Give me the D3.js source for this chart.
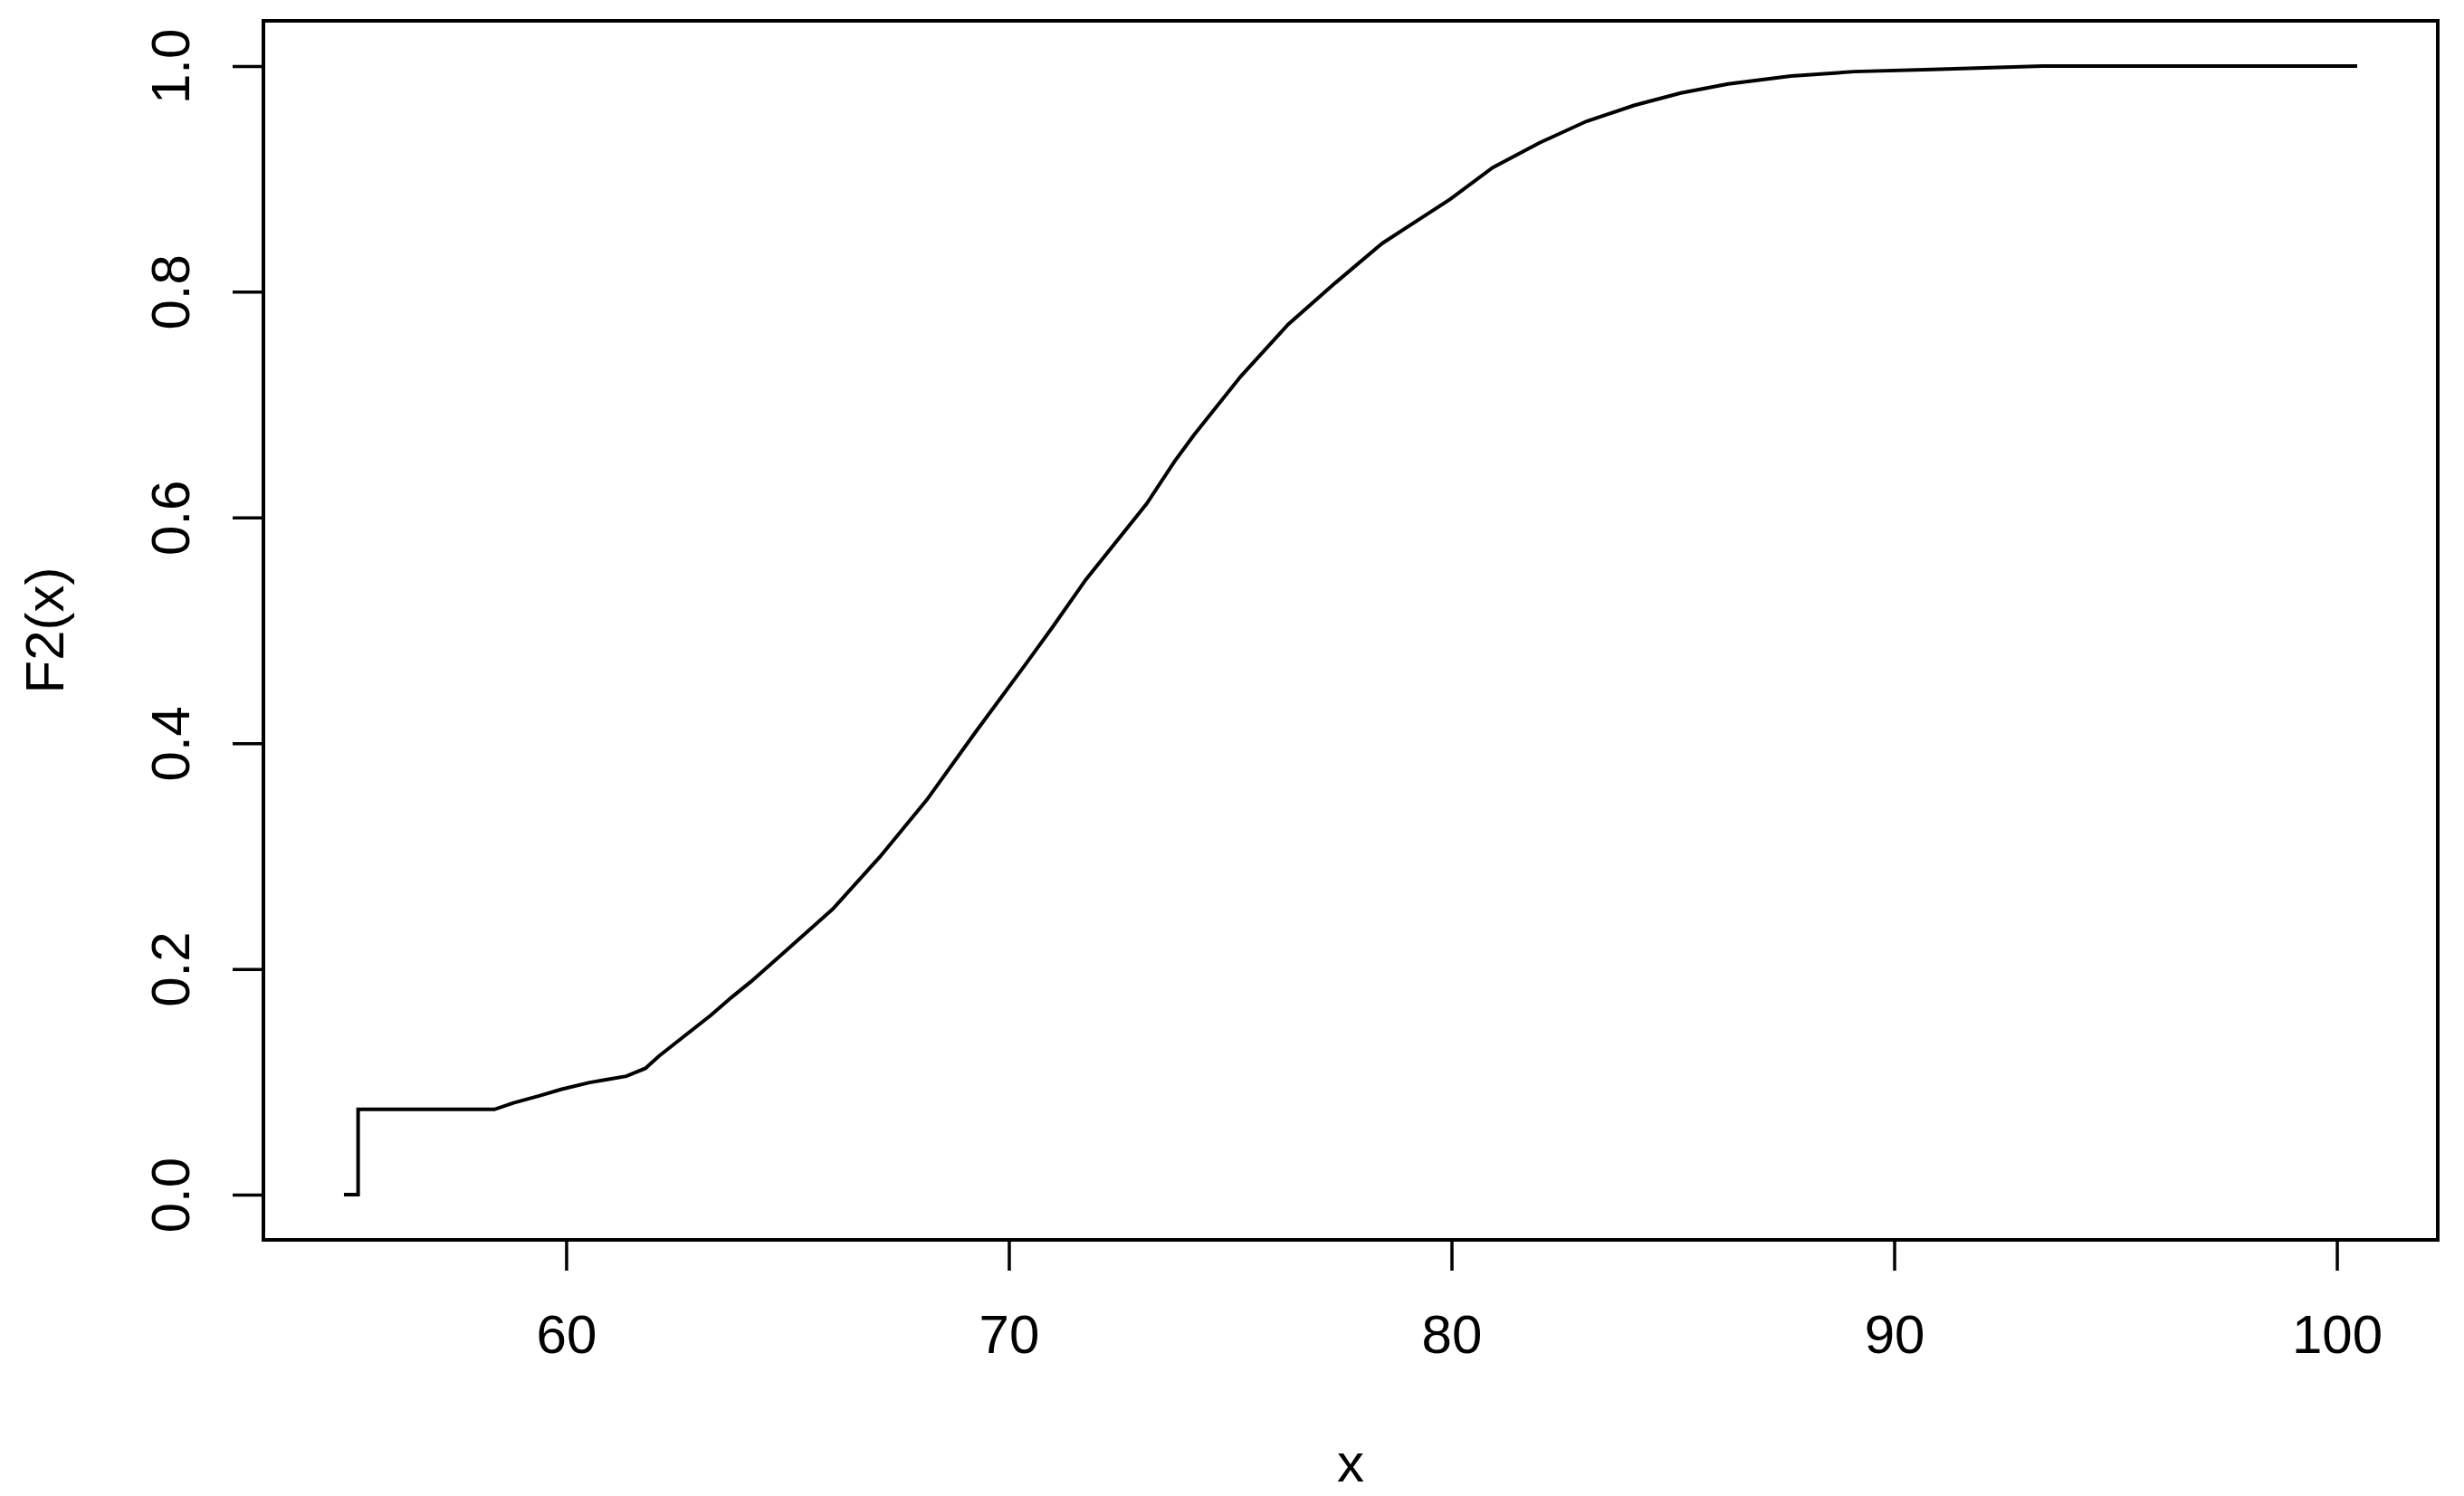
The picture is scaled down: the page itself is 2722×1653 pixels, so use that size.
<!DOCTYPE html>
<html>
<head>
<meta charset="utf-8">
<script src="https://cdn.jsdelivr.net/npm/d3@7"></script>
<style>
  body { margin: 0; background: #fff; }
  text { font-family: "Liberation Sans", Arial, sans-serif; fill: #000; }
</style>
</head>
<body>
<script>
var ecdfX = [54.98, 55.30, 55.30, 58.38, 58.81, 59.39, 59.90, 60.53, 60.96, 61.36,
             61.79, 62.10, 62.49, 62.88, 63.27, 63.74, 64.18, 64.93, 66.02, 67.08,
             68.15, 69.25, 70.38, 70.99, 71.74, 73.11, 73.75, 74.18, 75.24,
             76.31, 77.38, 78.44, 79.97, 80.93, 81.99, 83.05, 84.12, 85.18, 86.25,
             87.67, 89.09, 90.86, 93.35, 100.46];
var ecdfY = [0, 0, 0.0756, 0.0756, 0.0814, 0.0876, 0.0935, 0.0994, 0.1023, 0.105,
             0.112, 0.123, 0.135, 0.147, 0.159, 0.175, 0.189, 0.215, 0.253, 0.299,
             0.350, 0.410, 0.470, 0.503, 0.545, 0.612, 0.650, 0.673, 0.725,
             0.771, 0.808, 0.843, 0.882, 0.910, 0.932, 0.951, 0.965, 0.976, 0.984,
             0.991, 0.995, 0.997, 1.0, 1.0];

var xTicks = [60, 70, 80, 90, 100];
var yTicks = [0, 0.2, 0.4, 0.6, 0.8, 1.0];
var xTitle = "x";
var yTitle = "F2(x)";

var W = 2722, H = 1653;
var svg = d3.select("body").append("svg")
            .attr("width", W)
            .attr("height", H);

svg.append("rect").attr("width", W).attr("height", H).attr("fill", "#fff");

// R style 4% padding around the data range
var xmin = d3.min(ecdfX), xmax = d3.max(ecdfX);
var pad = (xmax - xmin) * 0.04;
var x = d3.scaleLinear().domain([xmin - pad, xmax + pad]).range([291, 2693]);
var y = d3.scaleLinear().domain([-0.04, 1.04]).range([1370, 23]);

var pts = ecdfX.map(function(d, i) { return [d, ecdfY[i]]; });

var line = d3.line()
             .x(function(d) { return x(d[0]); })
             .y(function(d) { return y(d[1]); });

svg.append("path")
   .datum(pts)
   .attr("d", line)
   .attr("fill", "none")
   .attr("stroke", "#000")
   .attr("stroke-width", 4)
   .attr("stroke-linejoin", "miter");

// x axis
var gx = svg.append("g")
            .attr("transform", "translate(0," + y.range()[0] + ")")
            .call(d3.axisBottom(x).tickValues(xTicks).tickSize(34).tickFormat(d3.format("d")));
gx.select(".domain").remove();
gx.selectAll(".tick line").attr("stroke", "#000").attr("stroke-width", 3.5);
gx.selectAll(".tick text")
  .attr("y", 125)
  .attr("dy", 0)
  .attr("font-size", 60)
  .attr("font-family", "Liberation Sans, Arial, sans-serif");

// y axis, labels turned like R's default las=0
var gy = svg.append("g")
            .attr("transform", "translate(" + x.range()[0] + ",0)")
            .call(d3.axisLeft(y).tickValues(yTicks).tickSize(34).tickFormat(d3.format(".1f")));
gy.select(".domain").remove();
gy.selectAll(".tick line").attr("stroke", "#000").attr("stroke-width", 3.5);
gy.selectAll(".tick text")
  .attr("transform", "rotate(-90)")
  .attr("x", 0)
  .attr("y", -82)
  .attr("dy", 0)
  .attr("text-anchor", "middle")
  .attr("font-size", 60)
  .attr("font-family", "Liberation Sans, Arial, sans-serif");

// plot frame
svg.append("rect")
   .attr("x", x.range()[0])
   .attr("y", y.range()[1])
   .attr("width", x.range()[1] - x.range()[0])
   .attr("height", y.range()[0] - y.range()[1])
   .attr("fill", "none")
   .attr("stroke", "#000")
   .attr("stroke-width", 4);

// titles
var cx = (x.range()[0] + x.range()[1]) / 2;
var cy = (y.range()[0] + y.range()[1]) / 2;
svg.append("text")
   .attr("x", cx)
   .attr("y", 1637)
   .attr("text-anchor", "middle")
   .attr("font-size", 60)
   .text(xTitle);

svg.append("text")
   .attr("transform", "translate(70," + cy + ") rotate(-90)")
   .attr("text-anchor", "middle")
   .attr("font-size", 60)
   .text(yTitle);
</script>
</body>
</html>
